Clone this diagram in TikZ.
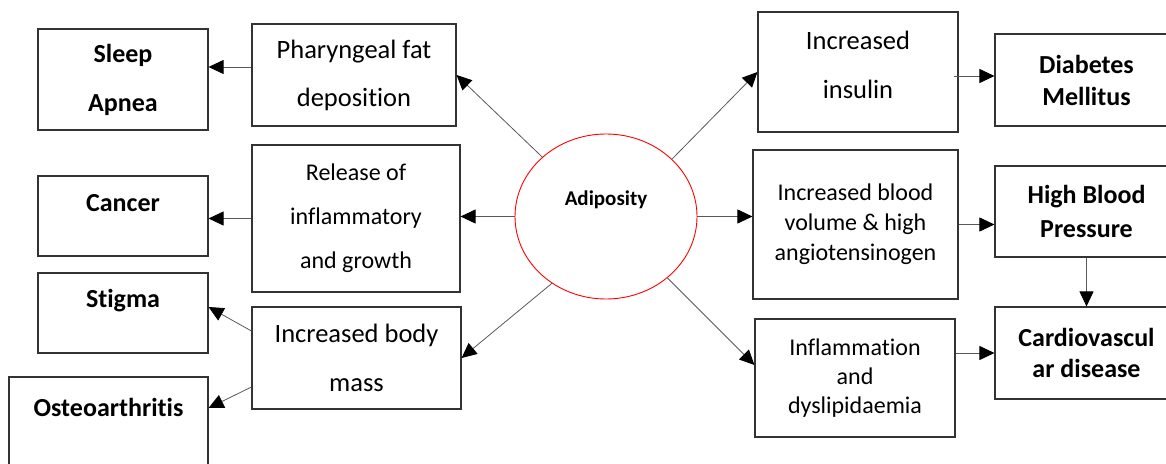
\documentclass[tikz,border=0pt]{standalone}
\usepackage{fontspec}
\setmainfont{Carlito}[Ligatures=NoCommon]
\usetikzlibrary{arrows.meta, shapes.geometric}

\begin{document}
\begin{tikzpicture}[x=1pt, y=-1pt,
    cell/.style={draw=black!80, line width=1.1pt, inner sep=0pt, align=center},
    lbl/.style={font=\fontsize{24}{#1}\selectfont},
    lblx/.style={font=\fontsize{26.5}{#1}\selectfont},
    hdr/.style={font=\fontsize{26}{#1}\selectfont\bfseries},
    adipose/.style={ellipse, draw=red, line width=0.9pt, inner sep=0pt,
        minimum width=182pt, minimum height=165pt,
        font=\fontsize{21}{25}\selectfont\bfseries},
    link/.style={draw=black!65, line width=0.8pt,
        -{Triangle[length=15pt, width=14pt, color=black]}}
]

    % Marco de la figura
    \useasboundingbox (0,0) rectangle (1166,463);
    \clip (0,0) rectangle (1166,463);

    % --- 1. EL CENTRO ---
    \node[adipose, text depth=37.5pt] (adip) at (606,216.5) {Adiposity};

    % --- 2. MECANISMOS (izquierda) ---
    \node[cell, lblx=48, minimum width=204pt, minimum height=102pt] (phar) at (354,75) {Pharyngeal fat\\deposition};
    \node[cell, lbl=44, minimum width=208pt, minimum height=147pt] (release) at (356,218.5) {Release of\\inflammatory\\and growth};
    \node[cell, lblx=49, minimum width=209pt, minimum height=102pt] (body) at (356.5,358) {Increased body\\mass};

    % --- 3. CONSECUENCIAS (izquierda) ---
    \node[cell, hdr=49, minimum width=170pt, minimum height=101pt] (sleep) at (123,79.5) {Sleep\\Apnea};
    \node[cell, hdr=30, minimum width=170pt, minimum height=80pt, text depth=26pt] (cancer) at (123,216) {Cancer};
    \node[cell, hdr=30, minimum width=170pt, minimum height=80pt, text depth=29.5pt] (stigma) at (123,313) {Stigma};
    \node[cell, hdr=30, minimum width=199pt, minimum height=103pt, text depth=43pt] (osteo) at (108.5,428.5) {Osteoarthritis};

    % --- 4. MECANISMOS (derecha) ---
    \node[cell, lblx=49, minimum width=200pt, minimum height=120pt, text depth=15pt] (insulin) at (858,72) {Increased\\insulin};
    \node[cell, lbl=30, minimum width=205pt, minimum height=149pt] (blood) at (855.5,224.5) {Increased blood\\volume \& high\\angiotensinogen};
    \node[cell, lbl=29, minimum width=200pt, minimum height=118pt] (inflam) at (855,378) {Inflammation\\and\\dyslipidaemia};

    % --- 5. CONSECUENCIAS (derecha) ---
    \node[cell, hdr=32, minimum width=183pt, minimum height=92pt] (diab) at (1086.5,80) {Diabetes\\Mellitus};
    \node[cell, hdr=34, minimum width=183pt, minimum height=91pt] (hbp) at (1086.5,211.5) {High Blood\\Pressure};
    \node[cell, hdr=31, minimum width=183pt, minimum height=92pt] (cardio) at (1086.5,353) {Cardiovascul\\ar disease};

    % --- 6. FLECHAS ---
    % Desde el centro
    \draw[link] (adip.137.6) -- (phar.east);
    \draw[link] (adip.west) -- (adip.west -| release.east);
    \draw[link] (adip.231.5) -- (body.east);
    \draw[link] (adip.41.6) -- (insulin.west);
    \draw[link] (adip.east) -- (adip.east -| blood.west);
    \draw[link] (adip.-45.7) -- ([yshift=13pt]inflam.west);

    % Lado izquierdo
    \coordinate (p1) at ([yshift=8pt]phar.west);
    \draw[link] (p1) -- (p1 -| sleep.east);
    \draw[link] (release.west) -- (release.west -| cancer.east);
    \draw[link] ([yshift=27pt]body.west) -- ([yshift=6pt]stigma.east);
    \draw[link] ([yshift=-29pt]body.west) -- ([yshift=20.5pt]osteo.east);

    % Lado derecho
    \coordinate (p2) at ([xshift=-5pt, yshift=-4pt]insulin.east);
    \draw[link] (p2) -- (p2 -| diab.west);
    \draw[link] (blood.east) -- (blood.east -| hbp.west);
    \draw[link] (hbp.south) -- (cardio.north);
    \draw[link] (cardio.west -| inflam.east) -- (cardio.west);

\end{tikzpicture}
\end{document}
